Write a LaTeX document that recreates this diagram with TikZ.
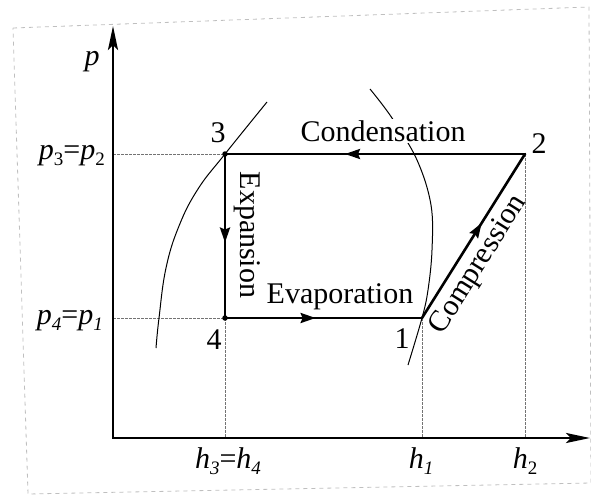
\documentclass[tikz,border=0pt]{standalone}
\usepackage{fontspec}
\setmainfont{Liberation Serif}
\usetikzlibrary{arrows.meta,decorations.markings}
\newcommand{\lowsub}[1]{\raisebox{-6pt}{\fontsize{19}{20}\selectfont #1}}
\begin{document}
\begin{tikzpicture}[x=1pt,y=-1pt,
  lbl/.style={font=\fontsize{30}{32}\selectfont, inner sep=1pt},
  cyc/.style={line width=2.6pt, line cap=round, line join=round},
  axisline/.style={line width=2.6pt, line join=miter},
  guide/.style={black!55, line width=0.9pt, dash pattern=on 2.5pt off 1.5pt},
  thincurve/.style={line width=1pt},
  framestyle/.style={black!25, line width=0.8pt, dash pattern=on 4pt off 4pt},
  dotmark/.style={circle, fill=black, inner sep=0pt, minimum size=5.5pt},
  midarrow/.style={postaction={decorate},
    decoration={markings, mark=at position #1 with {\arrow{Stealth[length=15pt,width=10pt,inset=2pt]}}}}
]
\useasboundingbox (0,0) rectangle (591,500);
% faint frame of the scan
\draw[framestyle] (13,28) -- (589,7) -- (591,483) -- (28,494) -- cycle;

% coordinates
\coordinate (Ptop) at (113,26);
\coordinate (O) at (113,438);
\coordinate (Hend) at (590,438);
\coordinate (n3) at (225,154);
\coordinate (n2) at (525,154);
\coordinate (n4) at (225,318);
\coordinate (n1) at (422,318);
\coordinate (a3) at (113,154);
\coordinate (a4) at (113,318);
\coordinate (f4) at (225,438);
\coordinate (f1) at (422,438);
\coordinate (f2) at (525,438);

% guide lines
\draw[guide] (a3) -- (n3);
\draw[guide] (a4) -- (n4);
\draw[guide] (n4) -- (f4);
\draw[guide] (n1) -- (f1);
\draw[guide] (n2) -- (f2);

% axes
\draw[axisline, {Stealth[length=24pt,width=10pt,inset=5pt]}-{Stealth[length=24pt,width=10pt,inset=5pt]}]
  (Ptop) -- (O) -- (Hend);

% saturation curves
\draw[thincurve] plot[smooth, tension=0.7] coordinates
  {(267,102) (225,154) (198,189) (179,226) (166,268) (159,318) (156,348)};
\draw[thincurve] plot[smooth, tension=0.6] coordinates
  {(370,89) (392,118) (417,160) (431,205) (432,250) (428,290) (422,318) (408,365)};

% cycle
\draw[cyc, midarrow=0.6] (n2) -- (n3);
\draw[cyc, midarrow=0.54] (n3) -- (n4);
\draw[cyc, midarrow=0.46] (n4) -- (n1);
\draw[cyc, midarrow=0.58] (n1) -- (n2);
\node[dotmark] (d3) at (n3) {};
\node[dotmark] (d4) at (n4) {};

% process labels
\node[lbl, fill=white] (lc) at (383,131) {Condensation};
\node[lbl] (le) at (340,297) {Evaporation};
\node[lbl, rotate=-90] (lx) at (247,235) {Expansion};
\node[lbl, rotate=57.9] (lp) at (479,265) {Compression};

% point labels
\node[lbl] (l3) at (218,133) {3};
\node[lbl] (l2) at (539,144) {2};
\node[lbl] (l4) at (214,340) {4};
\node[lbl] (l1) at (402,339) {1};

% axis labels
\node[lbl] (lpax) at (92,62) {\textit{p}};
\node[lbl, anchor=east] (lp32) at (106,156) {\textit{p}\lowsub{3}=\textit{p}\lowsub{2}};
\node[lbl, anchor=east] (lp41) at (104,321) {\textit{p}\lowsub{\textit{4}}=\textit{p}\lowsub{\textit{1}}};
\node[lbl] (lh34) at (228,461) {\textit{h}\lowsub{\textit{3}}=\textit{h}\lowsub{\textit{4}}};
\node[lbl] (lh1) at (421,461) {\textit{h}\lowsub{\textit{1}}};
\node[lbl] (lh2) at (525,461) {\textit{h}\lowsub{2}};
\end{tikzpicture}
\end{document}
